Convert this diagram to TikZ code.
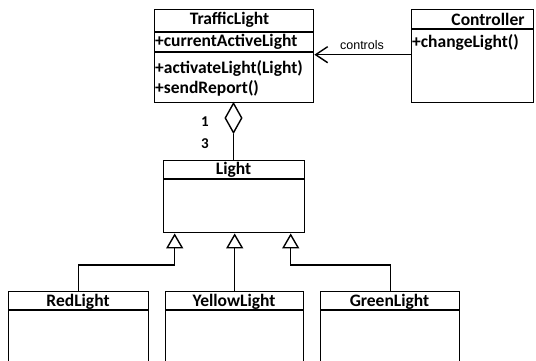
\documentclass[tikz,border=0pt]{standalone}
\usepackage{fontspec}
\setmainfont{Carlito}
\newfontfamily\lblfont{Liberation Sans}
\usetikzlibrary{arrows.meta,shapes.geometric}
\begin{document}
\begin{tikzpicture}[x=1pt,y=-1pt,
  cls/.style={draw,line width=1.4pt,rectangle,anchor=north west,inner sep=0pt},
  ttl/.style={font=\bfseries\fontsize{17.5}{19}\selectfont,anchor=center,inner sep=0pt},
  mem/.style={font=\bfseries\fontsize{17.5}{19}\selectfont,anchor=west,inner sep=0pt},
  num/.style={font=\bfseries\fontsize{15}{17}\selectfont,anchor=center,inner sep=0pt},
  conn/.style={line width=1.4pt},
  gen/.style={conn,-{Triangle[open,length=15pt,width=17pt,fill=white]}},
  assoc/.style={conn,-{Straight Barb[length=12pt,width=16pt]}},
  agg/.style={draw,line width=1.4pt,fill=white,shape=diamond,minimum width=17pt,minimum height=30pt,inner sep=0pt}
]
\useasboundingbox (0,0) rectangle (536,361);
\clip (0,0) rectangle (536,361);
\fill[white] (0,0) rectangle (536,361);

% TrafficLight
\node[cls,minimum width=159pt,minimum height=93pt] (tl) at (154,9) {};
\draw[conn] (154,32) -- (313,32);
\draw[conn] (154,52) -- (313,52);
\node[ttl] (tlt) at (229.5,20) {TrafficLight};
\node[mem] (tla) at (155,42) {+currentActiveLight};
\node[mem] (tlm1) at (155,68) {+activateLight(Light)};
\node[mem] (tlm2) at (155,88) {+sendReport()};

% Controller
\node[cls,minimum width=122pt,minimum height=93pt] (ctrl) at (411,9) {};
\draw[conn] (411,29) -- (533,29);
\node[ttl] (ctrlt) at (488,19) {Controller};
\node[mem] (ctrlm) at (412,42) {+changeLight()};

% association
\draw[assoc] ([yshift=1.5pt]ctrl.west) -- ([yshift=1.5pt]tl.east);
\node[font=\lblfont\fontsize{12.5}{14}\selectfont,inner sep=0pt] (ctl) at (362,45) {controls};

% Light
\node[cls,minimum width=141pt,minimum height=72pt] (light) at (163,160) {};
\draw[conn] (163,179) -- (304,179);
\node[ttl] (lightt) at (233.5,170) {Light};

% aggregation
\node[agg] (dia) at (233.5,118) {};
\draw[conn] (dia.south) -- (dia.south |- light.north);
\node[num] (n1) at (205,122) {1};
\node[num] (n3) at (205,144) {3};

% subclasses
\node[cls,minimum width=140pt,minimum height=100pt] (red) at (8,291) {};
\draw[conn] (8,310) -- (148,310);
\node[ttl] (redt) at (78,302) {RedLight};

\node[cls,minimum width=138pt,minimum height=100pt] (yellow) at (165,291) {};
\draw[conn] (165,310) -- (303,310);
\node[ttl] (yellowt) at (234,302) {YellowLight};

\node[cls,minimum width=139pt,minimum height=100pt] (green) at (320,291) {};
\draw[conn] (320,310) -- (459,310);
\node[ttl] (greent) at (389.5,302) {GreenLight};

% generalizations
\draw[gen] (red.north) -- ++(0,-26) -| ([xshift=-59.5pt]light.south);
\draw[gen] (yellow.north) -- (yellow.north |- light.south);
\draw[gen] (green.north) -- ++(0,-26) -| ([xshift=56.5pt]light.south);
\end{tikzpicture}
\end{document}
